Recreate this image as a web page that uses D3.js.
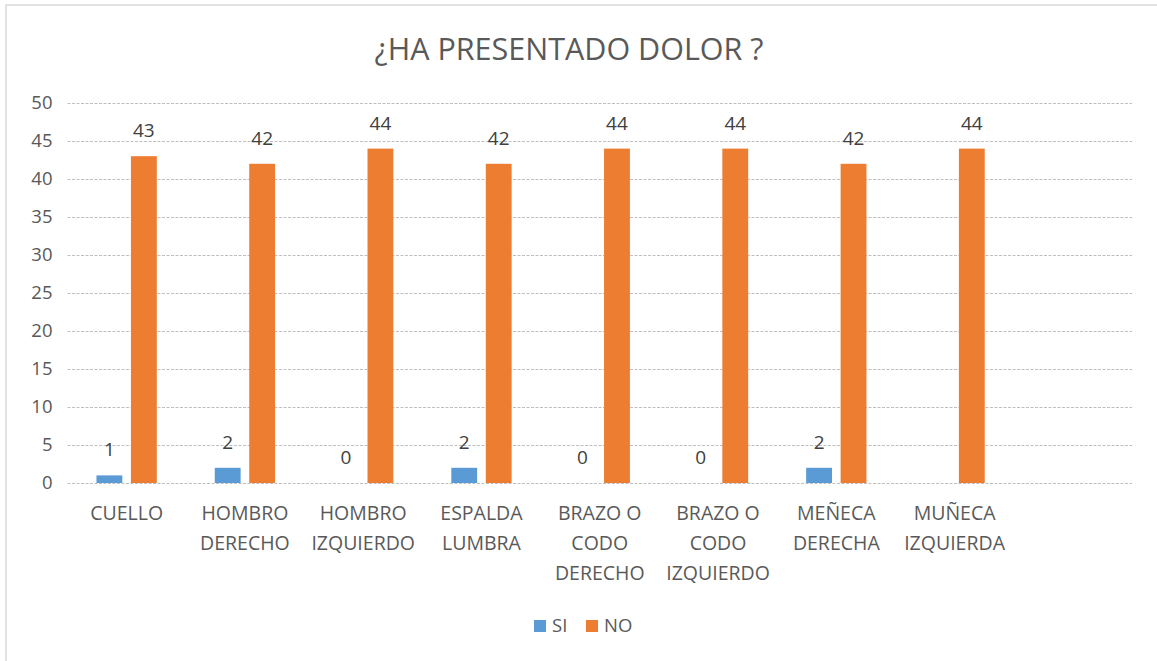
<!DOCTYPE html>
<html><head><meta charset="utf-8">
<script src="https://cdn.jsdelivr.net/npm/d3@7"></script>
<style>body{margin:0;background:#fff}svg{display:block}</style>
</head><body>
<script>
const title = "¿HA PRESENTADO DOLOR ?";
const categories = [
  ["CUELLO"],
  ["HOMBRO","DERECHO"],
  ["HOMBRO","IZQUIERDO"],
  ["ESPALDA","LUMBRA"],
  ["BRAZO O","CODO","DERECHO"],
  ["BRAZO O","CODO","IZQUIERDO"],
  ["MEÑECA","DERECHA"],
  ["MUÑECA","IZQUIERDA"],
  [""]
];
const seriesNames = ["SI","NO"];
const siValues = [1,2,0,2,0,0,2,null,null];
const noValues = [43,42,44,42,44,44,42,44,null];
const yTicks = [0,5,10,15,20,25,30,35,40,45,50];
const colors = {SI:"#5b9bd5", NO:"#ed7d31"};

(function(){
const W = 1157, H = 661;
const font = "'Open Sans', 'Noto Sans', sans-serif";
const svg = d3.select("body").append("svg").attr("width",W).attr("height",H);

svg.append("rect").attr("x",6).attr("y",5).attr("width",W).attr("height",H)
  .attr("fill","#fff").attr("stroke","#d9d9d9").attr("stroke-width",1.5);

const pL = 67.5, pR = 1132, pT = 103, pB = 483;
const y = d3.scaleLinear().domain([0,50]).range([pB, pT]);
const idx = categories.map((d,i)=>i);
const x0 = d3.scaleBand().domain(idx).range([pL,pR]).paddingInner(0.49).paddingOuter(0.245);
const x1 = d3.scaleBand().domain(seriesNames).range([0,x0.bandwidth()]).paddingInner(0.25);

svg.append("text").attr("x",569).attr("y",60).attr("text-anchor","middle")
  .attr("font-family",font).attr("font-size",30.5).attr("fill","#595959").text(title);

const yAxis = d3.axisLeft(y).tickValues(yTicks).tickSize(-(pR-pL)).tickPadding(15);
const ga = svg.append("g").attr("transform",`translate(${pL},0)`).call(yAxis);
ga.select(".domain").remove();
ga.selectAll(".tick line").attr("stroke","#bfbfbf").attr("stroke-dasharray","3,1.5").attr("stroke-width",1);
ga.selectAll(".tick text").attr("font-family",font).attr("font-size",18.5).attr("fill","#595959");

const data = seriesNames.map((s,si)=>({name:s, values:(si===0?siValues:noValues)}));
data.forEach(ser=>{
  const g = svg.append("g");
  ser.values.forEach((v,i)=>{
    if(v===null) return;
    const bx = x0(i)+x1(ser.name);
    if(v>0){
      g.append("rect").attr("x",bx).attr("y",y(v)).attr("width",x1.bandwidth())
        .attr("height",y(0)-y(v)).attr("fill",colors[ser.name]);
    }
    g.append("text").attr("x",bx+x1.bandwidth()/2).attr("y",y(v)-19)
      .attr("text-anchor","middle").attr("font-family",font).attr("font-size",19)
      .attr("fill","#404040").text(v);
  });
});

categories.forEach((lines,i)=>{
  const cx = x0(i)+x0.bandwidth()/2;
  const t = svg.append("text").attr("text-anchor","middle").attr("font-family",font)
    .attr("font-size",19.5).attr("fill","#595959");
  lines.forEach((l,j)=>{
    t.append("tspan").attr("x",cx).attr("y",520+j*30).text(l);
  });
});

const leg = [{n:"SI",x:534},{n:"NO",x:586}];
leg.forEach(d=>{
  svg.append("rect").attr("x",d.x).attr("y",620).attr("width",12).attr("height",12).attr("fill",colors[d.n]);
  svg.append("text").attr("x",d.x+18).attr("y",632).attr("font-family",font).attr("font-size",18.5)
    .attr("fill","#595959").text(d.n);
});
})();
</script>
</body></html>
